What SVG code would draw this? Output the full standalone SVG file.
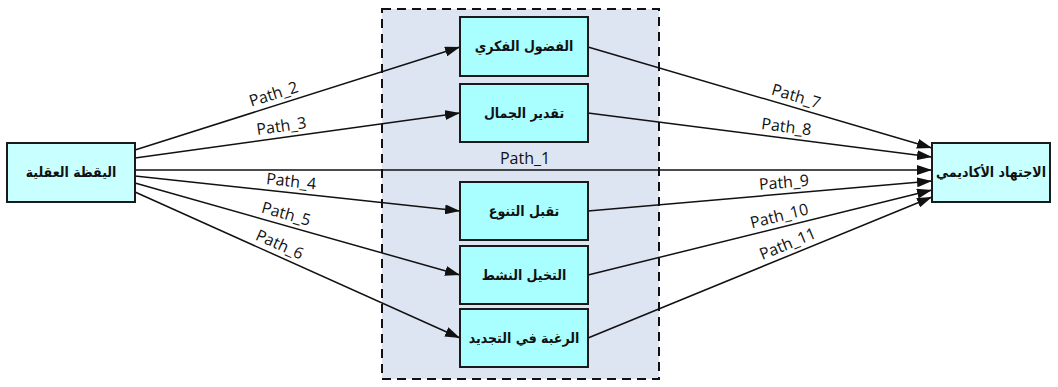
<svg xmlns="http://www.w3.org/2000/svg" width="1058" height="387" viewBox="0 0 1058 387">
  <style>
    .node rect { stroke: #1a1a1a; stroke-width: 2; }
    .src { fill: #c8ffff; }
    .mid { fill: #a9ffff; }
    .label { font-family: "DejaVu Sans Condensed", "DejaVu Sans", sans-serif; font-stretch: condensed; font-weight: bold; font-size: 14px; fill: #111; text-anchor: middle; dominant-baseline: central; }
    .edge { stroke: #111; stroke-width: 1.5; fill: none; marker-end: url(#arrow); }
    .plabel { font-family: "Open Sans", "Noto Sans", sans-serif; font-size: 16px; fill: #111; text-anchor: middle; }
  </style>
  <defs>
    <marker id="arrow" markerUnits="userSpaceOnUse" markerWidth="16" markerHeight="10" refX="15" refY="5" orient="auto">
      <path d="M0,0 L15,5 L0,10 z" fill="#111"/>
    </marker>
  </defs>

  <rect width="1058" height="387" fill="#ffffff"/>

  <!-- mediator panel -->
  <rect id="mediators-panel" x="382" y="9" width="277" height="370" fill="#dde4f2" stroke="#111" stroke-width="2" stroke-dasharray="9,6"/>

  <!-- connectors -->
  <g id="connectors">
    <line class="edge" x1="135" y1="170" x2="932" y2="170"/>
    <line class="edge" x1="135" y1="150" x2="460" y2="47"/>
    <line class="edge" x1="135" y1="158" x2="460" y2="113"/>
    <line class="edge" x1="135" y1="176" x2="460" y2="211"/>
    <line class="edge" x1="135" y1="183" x2="460" y2="275"/>
    <line class="edge" x1="135" y1="192" x2="460" y2="338"/>
    <line class="edge" x1="588" y1="47" x2="932" y2="148"/>
    <line class="edge" x1="588" y1="113" x2="932" y2="157"/>
    <line class="edge" x1="588" y1="211" x2="932" y2="181"/>
    <line class="edge" x1="588" y1="275" x2="932" y2="190"/>
    <line class="edge" x1="588" y1="338" x2="932" y2="197"/>

    <text class="plabel" x="525" y="164">Path_1</text>
    <text class="plabel" transform="translate(277,105) rotate(-17.6)" y="-6">Path_2</text>
    <text class="plabel" transform="translate(283,137.5) rotate(-7.9)" y="-6">Path_3</text>
    <text class="plabel" transform="translate(290,192.7) rotate(6.1)" y="-6">Path_4</text>
    <text class="plabel" transform="translate(283,224.9) rotate(15.8)" y="-6">Path_5</text>
    <text class="plabel" transform="translate(275,254.9) rotate(24.2)" y="-6">Path_6</text>
    <text class="plabel" transform="translate(793,107.2) rotate(16.4)" y="-6">Path_7</text>
    <text class="plabel" transform="translate(785,138.2) rotate(7.3)" y="-6">Path_8</text>
    <text class="plabel" transform="translate(785,193.8) rotate(-5)" y="-6">Path_9</text>
    <text class="plabel" transform="translate(782,227.1) rotate(-13.9)" y="-6">Path_10</text>
    <text class="plabel" transform="translate(792,254.4) rotate(-22.3)" y="-6">Path_11</text>
  </g>

  <!-- source node -->
  <g id="node-alertness" class="node">
    <rect class="src" x="7" y="143" width="128" height="59"/>
    <text class="label" x="71" y="172">اليقظة العقلية</text>
  </g>

  <!-- outcome node -->
  <g id="node-diligence" class="node">
    <rect class="src" x="932" y="143" width="118" height="59"/>
    <text class="label" x="991" y="172">الاجتهاد الأكاديمي</text>
  </g>

  <!-- mediator nodes -->
  <g id="node-curiosity" class="node">
    <rect class="mid" x="460" y="17" width="128" height="59"/>
    <text class="label" x="524" y="46">الفضول الفكري</text>
  </g>
  <g id="node-beauty" class="node">
    <rect class="mid" x="460" y="84" width="128" height="58"/>
    <text class="label" x="524" y="113">تقدير الجمال</text>
  </g>
  <g id="node-diversity" class="node">
    <rect class="mid" x="460" y="182" width="128" height="58"/>
    <text class="label" x="524" y="211">تقبل التنوع</text>
  </g>
  <g id="node-imagination" class="node">
    <rect class="mid" x="460" y="246" width="128" height="58"/>
    <text class="label" x="524" y="275">التخيل النشط</text>
  </g>
  <g id="node-renewal" class="node">
    <rect class="mid" x="460" y="309" width="128" height="58"/>
    <text class="label" x="524" y="338">الرغبة في التجديد</text>
  </g>
</svg>
